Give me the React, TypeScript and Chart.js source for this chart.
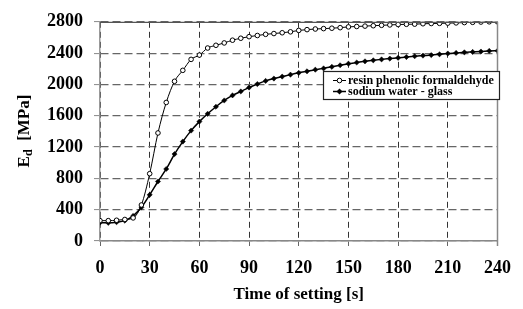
import React, { useEffect, useRef } from 'react';
import { Chart, registerables } from 'chart.js';

Chart.register(...registerables);

const times = [
  0, 5, 10, 15, 20, 25, 30, 35, 40, 45, 50, 55, 60, 65, 70, 75, 80, 85, 90, 95,
  100, 105, 110, 115, 120, 125, 130, 135, 140, 145, 150, 155, 160, 165, 170, 175,
  180, 185, 190, 195, 200, 205, 210, 215, 220, 225, 230, 235, 240,
];

const resinValues = [
  260, 260, 265, 275, 295, 460, 860, 1380, 1770, 2040, 2180, 2320, 2375, 2465,
  2500, 2530, 2565, 2590, 2610, 2625, 2640, 2650, 2660, 2672, 2690, 2700, 2708,
  2713, 2718, 2725, 2735, 2740, 2745, 2750, 2755, 2760, 2765, 2768, 2770, 2775,
  2778, 2780, 2783, 2786, 2790, 2793, 2797, 2800, 2800,
];

const sodiumValues = [
  235, 232, 240, 260, 320, 430, 590, 760, 920, 1110, 1270, 1410, 1525, 1625,
  1715, 1795, 1860, 1910, 1960, 2005, 2045, 2075, 2100, 2125, 2148, 2168, 2188,
  2205, 2225, 2245, 2265, 2280, 2295, 2308, 2320, 2330, 2340, 2350, 2360, 2368,
  2375, 2385, 2395, 2402, 2410, 2415, 2420, 2428, 2430,
];

const seriesLabels = ['resin phenolic formaldehyde', 'sodium water - glass'];
const xTitle = 'Time of setting [s]';
const yTitleMain = 'E';
const yTitleSub = 'd';
const yTitleUnit = '  [MPa]';
const xRange = [0, 240];
const xStep = 30;
const yRange = [0, 2800];
const yStep = 400;

const FONT = '"Liberation Serif", "Times New Roman", serif';

const overlayPlugin = {
  id: 'overlay',
  afterDraw(chart: any) {
    const { ctx, chartArea } = chart;
    const { left, right, top, bottom } = chartArea;
    ctx.save();
    ctx.strokeStyle = '#555';
    ctx.lineWidth = 1.2;
    ctx.beginPath();
    ctx.moveTo(left, top + 0.5);
    ctx.lineTo(right, top + 0.5);
    ctx.stroke();
    ctx.strokeStyle = '#888';
    ctx.lineWidth = 1.5;
    ctx.beginPath();
    ctx.moveTo(right, top);
    ctx.lineTo(right, bottom + 5);
    ctx.stroke();

    ctx.translate(25, 131);
    ctx.rotate(-Math.PI / 2);
    ctx.fillStyle = '#000';
    ctx.textBaseline = 'middle';
    const mainFont = `bold 17px ${FONT}`;
    const subFont = `bold 12px ${FONT}`;
    ctx.font = mainFont;
    const wE = ctx.measureText(yTitleMain).width;
    const wU = ctx.measureText(yTitleUnit).width;
    ctx.font = subFont;
    const wD = ctx.measureText(yTitleSub).width;
    let x = -(wE + wD + wU) / 2;
    ctx.font = mainFont;
    ctx.fillText(yTitleMain, x, 0);
    x += wE;
    ctx.font = subFont;
    ctx.fillText(yTitleSub, x, 4);
    x += wD;
    ctx.font = mainFont;
    ctx.fillText(yTitleUnit, x, 0);
    ctx.restore();

    ctx.save();
    const bx = 323, by = 71, bw = 176, bh = 28;
    ctx.fillStyle = '#fff';
    ctx.fillRect(bx, by, bw, bh);
    ctx.strokeStyle = '#222';
    ctx.lineWidth = 1.2;
    ctx.strokeRect(bx + 0.5, by + 0.5, bw, bh);
    ctx.font = `bold 12px ${FONT}`;
    ctx.textBaseline = 'middle';
    ctx.textAlign = 'left';
    chart.data.datasets.forEach((ds: any, i: number) => {
      const ry = by + 9.5 + i * 11;
      ctx.strokeStyle = '#000';
      ctx.lineWidth = ds.borderWidth;
      ctx.beginPath();
      ctx.moveTo(333, ry);
      ctx.lineTo(346, ry);
      ctx.stroke();
      ctx.lineWidth = 1;
      if (ds.pointStyle === 'circle') {
        ctx.fillStyle = '#fff';
        ctx.beginPath();
        ctx.arc(339.5, ry, 2.3, 0, Math.PI * 2);
        ctx.fill();
        ctx.stroke();
      } else {
        ctx.fillStyle = '#000';
        ctx.beginPath();
        ctx.moveTo(339.5, ry - 3);
        ctx.lineTo(342.5, ry);
        ctx.lineTo(339.5, ry + 3);
        ctx.lineTo(336.5, ry);
        ctx.closePath();
        ctx.fill();
      }
      ctx.fillStyle = '#000';
      ctx.fillText(ds.label, 348, ry);
    });
    ctx.restore();
  },
};

export default function App() {
  const ref = useRef<HTMLCanvasElement>(null);
  useEffect(() => {
    if (!ref.current) return;
    const resinData = times.map((t, i) => ({ x: t, y: resinValues[i] }));
    const sodiumData = times.map((t, i) => ({ x: t, y: sodiumValues[i] }));
    const chart = new Chart(ref.current, {
      type: 'line',
      data: {
        datasets: [
          {
            label: seriesLabels[0],
            data: resinData,
            borderColor: '#000',
            borderWidth: 1,
            pointStyle: 'circle',
            pointRadius: 2.3,
            pointBackgroundColor: '#fff',
            pointBorderColor: '#000',
            pointBorderWidth: 1,
            cubicInterpolationMode: 'monotone',
          },
          {
            label: seriesLabels[1],
            data: sodiumData,
            borderColor: '#000',
            borderWidth: 1.5,
            pointStyle: 'rectRot',
            pointRadius: 2.6,
            pointBackgroundColor: '#000',
            pointBorderColor: '#000',
            pointBorderWidth: 0.5,
            cubicInterpolationMode: 'monotone',
          },
        ] as any,
      },
      options: {
        animation: false,
        responsive: false,
        events: [],
        layout: { padding: { top: 12, right: 20, left: 0, bottom: 0 } },
        plugins: { legend: { display: false }, tooltip: { enabled: false } },
        scales: {
          x: {
            type: 'linear',
            min: xRange[0],
            max: xRange[1],
            afterFit: (s: any) => { s.height = 68; },
            ticks: {
              stepSize: xStep,
              padding: 12,
              color: '#000',
              font: { family: FONT, size: 18, weight: 'bold' },
              callback: (v: any) => String(v),
            },
            grid: {
              color: '#333',
              lineWidth: 1,
              tickColor: '#666',
              tickLength: 5,
              tickWidth: 1,
            },
            border: { display: true, color: '#888', width: 1.5, dash: [6, 4] },
            title: {
              display: true,
              text: xTitle,
              color: '#000',
              font: { family: FONT, size: 17, weight: 'bold' },
              padding: { top: 0, bottom: 4 },
            },
          },
          y: {
            min: yRange[0],
            max: yRange[1],
            afterFit: (s: any) => { s.width = 100; },
            ticks: {
              stepSize: yStep,
              padding: 11,
              color: '#000',
              font: { family: FONT, size: 18, weight: 'bold' },
              callback: (v: any) => String(v),
            },
            grid: {
              color: '#666',
              lineWidth: 1.2,
              tickColor: '#888',
              tickLength: 6,
              tickWidth: 1,
            },
            border: { display: true, color: '#999', width: 1.5, dash: [8, 4] },
          },
        },
      } as any,
      plugins: [overlayPlugin],
    });
    return () => chart.destroy();
  }, []);
  return (
    <div style={{ position: 'absolute', left: 0, top: 0, width: 523, height: 309, background: '#fff' }}>
      <canvas ref={ref} width={523} height={309} style={{ display: 'block' }} />
    </div>
  );
}
